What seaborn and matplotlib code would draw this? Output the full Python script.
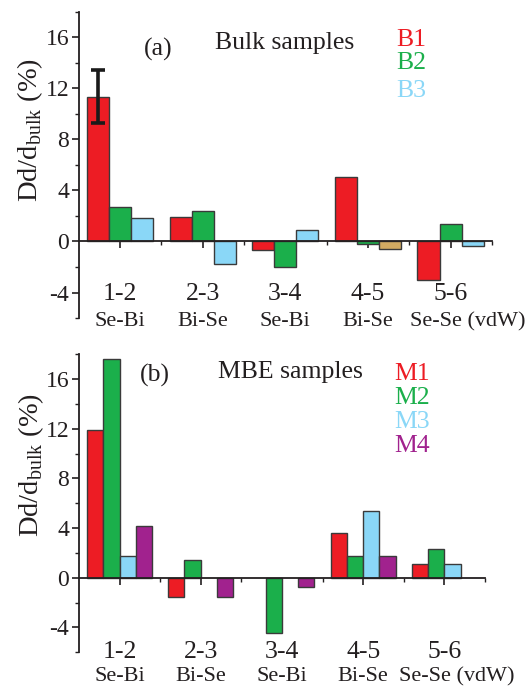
import numpy as np
import pandas as pd
import matplotlib
matplotlib.use("Agg")
import matplotlib.pyplot as plt
from matplotlib.ticker import MultipleLocator, FixedLocator, NullFormatter
import seaborn as sns

# Bond labels along the layer stack
bonds = ["1-2", "2-3", "3-4", "4-5", "5-6"]
bond_types = ["Se-Bi", "Bi-Se", "Se-Bi", "Bi-Se", "Se-Se (vdW)"]

# Relative change of interlayer spacing (%), bulk samples
bulk_samples = ["B1", "B2", "B3"]
b1 = [11.35, 1.9, -0.65, 5.08, -3.0]
b2 = [2.7, 2.4, -2.02, -0.2, 1.4]
b3 = [1.8, -1.78, 0.9, -0.6, -0.35]
b1_err = 2.1  # uncertainty on the surface spacing of B1

# Relative change of interlayer spacing (%), MBE-grown films
mbe_samples = ["M1", "M2", "M3", "M4"]
m1 = [11.9, -1.53, np.nan, 3.62, 1.08]
m2 = [17.6, 1.42, -4.43, 1.77, 2.29]
m3 = [1.77, np.nan, np.nan, 5.4, 1.08]
m4 = [4.19, -1.53, -0.72, 1.77, np.nan]

RED = "#ED1C24"
GREEN = "#1BAF4B"
BLUE = "#8AD7F7"
PURPLE = "#A1228E"
TAN = "#D2AA62"
EDGE = "#3a3a3a"
INK = "#231F20"

sns.set_style("ticks")
plt.rcParams["font.family"] = ["Liberation Serif", "DejaVu Serif"]
plt.rcParams["mathtext.fontset"] = "custom"
plt.rcParams["mathtext.rm"] = "Liberation Serif"
plt.rcParams["axes.unicode_minus"] = False
plt.rcParams["text.color"] = INK
plt.rcParams["axes.labelcolor"] = INK
plt.rcParams["xtick.color"] = INK
plt.rcParams["ytick.color"] = INK


def long_table(samples, series):
    rows = []
    for s, vals in zip(samples, series):
        for b, v in zip(bonds, vals):
            rows.append({"bond": b, "sample": s, "value": v})
    return pd.DataFrame(rows)


bulk_df = long_table(bulk_samples, [b1, b2, b3])
mbe_df = long_table(mbe_samples, [m1, m2, m3, m4])

fig = plt.figure(figsize=(5.26, 6.86), dpi=100)
ax_a = fig.add_axes([0.150, 0.5364, 0.785, 0.4465])
ax_b = fig.add_axes([0.150, 0.0491, 0.772, 0.4344])


def style_axis(ax):
    ax.set_xlim(-0.5, 4.5)
    ax.set_ylim(-6, 18)
    for side in ("top", "right"):
        ax.spines[side].set_visible(False)
    ax.spines["bottom"].set_position(("data", 0))
    for side in ("left", "bottom"):
        ax.spines[side].set_linewidth(1.3)
        ax.spines[side].set_color(INK)
    ax.yaxis.set_major_locator(MultipleLocator(4))
    ax.yaxis.set_minor_locator(MultipleLocator(2))
    ax.xaxis.set_major_locator(FixedLocator(range(len(bonds))))
    ax.xaxis.set_minor_locator(FixedLocator(np.arange(0.5, len(bonds), 1.0)))
    ax.xaxis.set_major_formatter(NullFormatter())
    ax.tick_params(axis="both", which="major", direction="out", length=5,
                   width=1.2, labelsize=17, pad=2)
    ax.tick_params(axis="both", which="minor", direction="out", length=3,
                   width=1.0)
    ax.set_xlabel("")
    ax.set_ylabel("")


def bond_labels(ax, y_num, y_type, last_shift):
    for i, (b, t) in enumerate(zip(bonds, bond_types)):
        shift = last_shift if i == len(bonds) - 1 else 0.0
        ax.text(i, y_num, b, ha="center", va="center", fontsize=18.5,
                clip_on=False)
        ax.text(i + shift, y_type, t, ha="center", va="center", fontsize=16,
                clip_on=False)


# (a) bulk samples
sns.barplot(data=bulk_df, x="bond", y="value", hue="sample", order=bonds,
            hue_order=bulk_samples, palette=[RED, GREEN, BLUE], width=0.8,
            edgecolor=EDGE, linewidth=1.0, errorbar=None, legend=False,
            saturation=1, ax=ax_a)
ax_a.containers[2][3].set_facecolor(TAN)
bar = ax_a.containers[0][0]
ax_a.errorbar(bar.get_x() + bar.get_width() / 2, bar.get_height(),
              yerr=b1_err, fmt="none", ecolor="#1a1a1a", elinewidth=2.6,
              capsize=5, capthick=2.6, zorder=5)
style_axis(ax_a)
bond_labels(ax_a, -4.1, -6.3, 0.21)

ax_a.text(0.191, 0.878, "(a)", transform=ax_a.transAxes, ha="center",
          va="center", fontsize=18.5)
ax_a.text(0.330, 0.898, "Bulk samples", transform=ax_a.transAxes, ha="left",
          va="center", fontsize=18.5)
for name, col, yy in zip(bulk_samples, [RED, GREEN, BLUE],
                         [0.909, 0.831, 0.742]):
    ax_a.text(0.768, yy, name, transform=ax_a.transAxes, ha="left",
              va="center", fontsize=18.5, color=col)
ax_a.text(-0.118, 0.614, r"Dd/d$_{\mathrm{bulk}}$ (%)",
          transform=ax_a.transAxes, rotation=90, ha="center", va="center",
          fontsize=20.5)

# (b) MBE samples
sns.barplot(data=mbe_df, x="bond", y="value", hue="sample", order=bonds,
            hue_order=mbe_samples, palette=[RED, GREEN, BLUE, PURPLE],
            width=0.8, edgecolor=EDGE, linewidth=1.0, errorbar=None,
            legend=False, saturation=1, ax=ax_b)
style_axis(ax_b)
bond_labels(ax_b, -5.96, -7.97, 0.15)

ax_b.text(0.187, 0.928, "(b)", transform=ax_b.transAxes, ha="center",
          va="center", fontsize=18.5)
ax_b.text(0.342, 0.940, "MBE samples", transform=ax_b.transAxes, ha="left",
          va="center", fontsize=18.5)
for name, col, yy in zip(mbe_samples, [RED, GREEN, BLUE, PURPLE],
                         [0.934, 0.855, 0.774, 0.694]):
    ax_b.text(0.776, yy, name, transform=ax_b.transAxes, ha="left",
              va="center", fontsize=18.5, color=col)
ax_b.text(-0.118, 0.629, r"Dd/d$_{\mathrm{bulk}}$ (%)",
          transform=ax_b.transAxes, rotation=90, ha="center", va="center",
          fontsize=20.5)

fig.savefig("out.png", dpi=100)
